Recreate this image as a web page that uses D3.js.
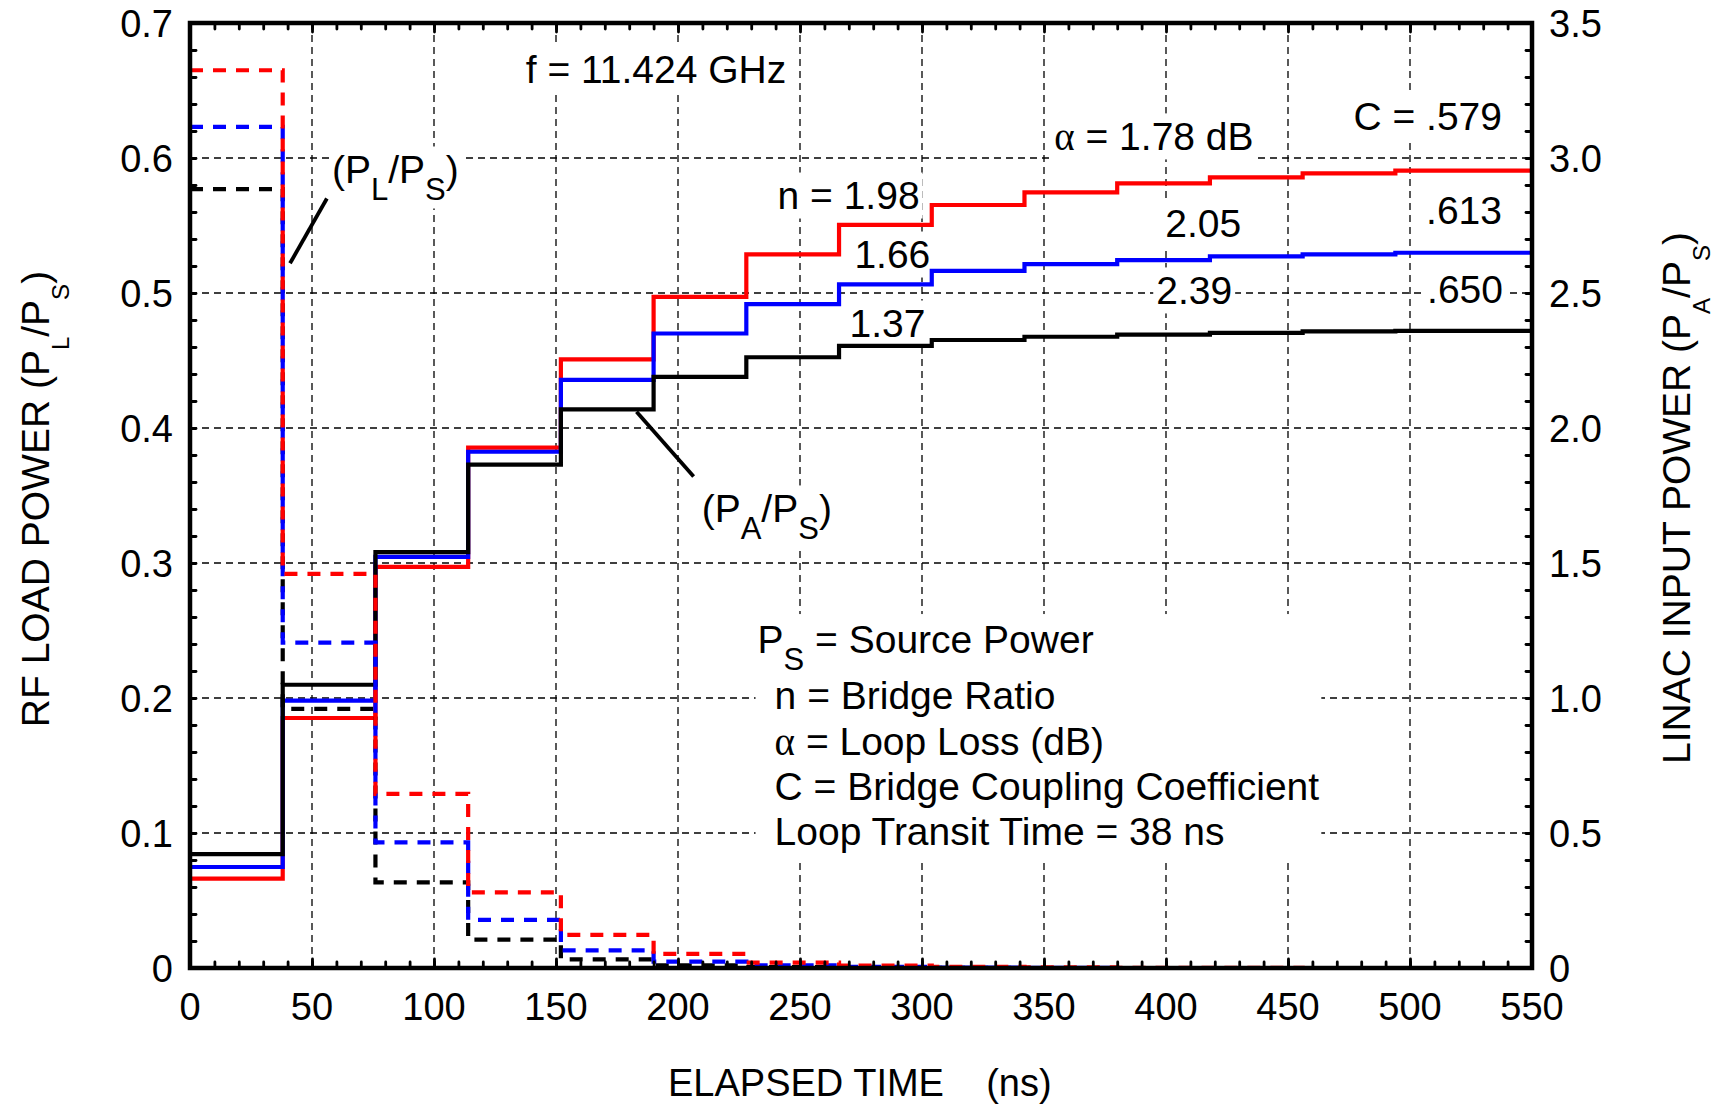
<!DOCTYPE html>
<html>
<head>
<meta charset="utf-8">
<script src="https://cdn.jsdelivr.net/npm/d3@7"></script>
<style>
  html, body { margin: 0; padding: 0; background: #fff; }
  svg { display: block; }
  text { font-family: "Liberation Sans", Arial, Helvetica, sans-serif; fill: #000; white-space: pre; }
</style>
</head>
<body>
<svg id="chart" width="1727" height="1112"></svg>
<script>
// Loop transit steps (ns); each value holds from its start time to the next one
const stepTimes = [0, 38, 76, 114, 152, 190, 228, 266, 304, 342, 380, 418, 456, 494];
const endTime = 550;

// Linac input power P_A/P_S (right axis)
const linacRed   = [0.331, 0.926, 1.486, 1.927, 2.254, 2.486, 2.643, 2.752, 2.826, 2.873, 2.906, 2.928, 2.943, 2.953];
const linacBlue  = [0.374, 0.990, 1.523, 1.912, 2.178, 2.350, 2.459, 2.532, 2.582, 2.607, 2.622, 2.636, 2.643, 2.649];
const linacBlack = [0.422, 1.049, 1.540, 1.864, 2.069, 2.189, 2.262, 2.304, 2.326, 2.338, 2.346, 2.352, 2.358, 2.360];

// RF load power P_L/P_S (left axis)
const loadRed   = [0.665, 0.292, 0.129, 0.056, 0.0245, 0.0104, 0.0040, 0.0017, 0.0008, 0.0004, 0.0002, 0.0001, 0, 0];
const loadBlue  = [0.623, 0.241, 0.093, 0.0356, 0.0131, 0.0047, 0.0020, 0.0008, 0.0003, 0.0001, 0, 0, 0, 0];
const loadBlack = [0.577, 0.192, 0.0635, 0.021, 0.0064, 0.0020, 0.0007, 0.0002, 0.0001, 0, 0, 0, 0, 0];

// Axis ticks
const xTickValues = [0, 50, 100, 150, 200, 250, 300, 350, 400, 450, 500, 550];
const leftTickValues = [0, 0.1, 0.2, 0.3, 0.4, 0.5, 0.6, 0.7];
const leftTickLabels = ["0", "0.1", "0.2", "0.3", "0.4", "0.5", "0.6", "0.7"];
const rightTickValues = [0, 0.5, 1.0, 1.5, 2.0, 2.5, 3.0, 3.5];
const rightTickLabels = ["0", "0.5", "1.0", "1.5", "2.0", "2.5", "3.0", "3.5"];

const colors = { red: "#ff0000", blue: "#0000ff", black: "#000000" };

const svg = d3.select("#chart");
const W = 1727, H = 1112;
const plot = { left: 190, right: 1532, top: 23, bottom: 968 };

const x = d3.scaleLinear().domain([0, endTime]).range([plot.left, plot.right]);
const yL = d3.scaleLinear().domain([0, 0.7]).range([plot.bottom, plot.top]);
const yR = d3.scaleLinear().domain([0, 3.5]).range([plot.bottom, plot.top]);

svg.append("rect").attr("width", W).attr("height", H).attr("fill", "#fff");

// Dashed grid
const grid = svg.append("g").attr("stroke", "#000").attr("stroke-width", 1.3).attr("stroke-dasharray", "7,5");
xTickValues.slice(1, -1).forEach(t => {
  grid.append("line").attr("x1", x(t)).attr("x2", x(t)).attr("y1", plot.top).attr("y2", plot.bottom);
});
leftTickValues.slice(1, -1).forEach(v => {
  grid.append("line").attr("x1", plot.left).attr("x2", plot.right).attr("y1", yL(v)).attr("y2", yL(v));
});

// Text with subscripts / greek parts, with an optional white backing box
function richText(g, px, py, parts, opt = {}) {
  const size = opt.size || 39, subSize = opt.subSize || 31, dy = opt.dy || 17;
  const t = g.append("text")
    .attr("x", px).attr("y", py)
    .attr("font-size", size)
    .attr("text-anchor", opt.anchor || "start");
  if (opt.transform) t.attr("transform", opt.transform);
  let shifted = false;
  parts.forEach(p => {
    const s = t.append("tspan").text(p[0]);
    if (p[1] === "sub") {
      s.attr("font-size", subSize).attr("dy", dy);
      shifted = true;
    } else {
      if (shifted) { s.attr("dy", -dy); shifted = false; }
      if (p[1] === "greek") s.attr("font-family", "'Liberation Serif', 'Times New Roman', serif");
    }
  });
  if (opt.bg) {
    const b = t.node().getBBox();
    const pad = opt.pad == null ? 3 : opt.pad;
    g.insert("rect", () => t.node())
      .attr("x", b.x - pad).attr("y", b.y - pad / 2)
      .attr("width", b.width + 2 * pad).attr("height", b.height + pad)
      .attr("fill", "#fff");
  }
  return t;
}

// Annotations inside the plot
const notes = svg.append("g");
const annotations = [
  { t: 137.6, v: 0.6556, parts: [["f = 11.424 GHz"]] },
  { t: 354.2, v: 0.6060, parts: [["α", "greek"], [" = 1.78 dB"]] },
  { t: 537.7, v: 0.6207, parts: [["C = .579"]], anchor: "end" },
  { t: 240.8, v: 0.5622, parts: [["n = 1.98"]] },
  { t: 399.7, v: 0.5415, parts: [["2.05"]] },
  { t: 537.7, v: 0.5511, parts: [[".613"]], anchor: "end" },
  { t: 272.3, v: 0.5185, parts: [["1.66"]] },
  { t: 396.0, v: 0.4919, parts: [["2.39"]] },
  { t: 538.1, v: 0.4926, parts: [[".650"]], anchor: "end" },
  { t: 270.3, v: 0.4674, parts: [["1.37"]] },
  { t: 58.2,  v: 0.5815, parts: [["(P"], ["L", "sub"], ["/P"], ["S", "sub"], [")"]] },
  { t: 209.7, v: 0.3304, parts: [["(P"], ["A", "sub"], ["/P"], ["S", "sub"], [")"]] }
];
annotations.forEach(a => {
  richText(notes, x(a.t), yL(a.v), a.parts, { anchor: a.anchor, bg: true });
});

// Definitions block on one white panel
const legendLines = [
  { t: 232.6, v: 0.2333, parts: [["P"], ["S", "sub"], [" = Source Power"]] },
  { t: 239.6, v: 0.1919, parts: [["n = Bridge Ratio"]] },
  { t: 239.6, v: 0.1578, parts: [["α", "greek"], [" = Loop Loss (dB)"]] },
  { t: 239.6, v: 0.1244, parts: [["C = Bridge Coupling Coefficient"]] },
  { t: 239.6, v: 0.0911, parts: [["Loop Transit Time = 38 ns"]] }
];
const legend = svg.append("g");
const legendPanel = legend.append("rect").attr("fill", "#fff");
legendLines.forEach(l => richText(legend, x(l.t), yL(l.v), l.parts, {}));
{
  const b = legend.node().getBBox();
  legendPanel.attr("x", b.x - 2).attr("y", b.y - 4).attr("width", b.width + 4).attr("height", b.height + 10);
}

// Leader lines from the curve-family labels
const leaders = [
  [[56.1, 0.570], [41.0, 0.522]],
  [[183.0, 0.412], [206.4, 0.364]]
];
leaders.forEach(l => {
  notes.append("line")
    .attr("x1", x(l[0][0])).attr("y1", yL(l[0][1]))
    .attr("x2", x(l[1][0])).attr("y2", yL(l[1][1]))
    .attr("stroke", "#000").attr("stroke-width", 3.8);
});

// Step curves
function stepData(values) {
  const d = stepTimes.map((t, i) => ({ t, v: values[i] }));
  d.push({ t: endTime, v: values[values.length - 1] });
  return d;
}
const lineL = d3.line().x(d => x(d.t)).y(d => yL(d.v)).curve(d3.curveStepAfter);
const lineR = d3.line().x(d => x(d.t)).y(d => yR(d.v)).curve(d3.curveStepAfter);

const curves = svg.append("g").attr("fill", "none");
[[linacRed, colors.red], [linacBlue, colors.blue], [linacBlack, colors.black]].forEach(([vals, c]) => {
  curves.append("path").attr("d", lineR(stepData(vals)))
    .attr("stroke", c).attr("stroke-width", 4.2);
});
[[loadBlack, colors.black], [loadBlue, colors.blue], [loadRed, colors.red]].forEach(([vals, c]) => {
  curves.append("path").attr("d", lineL(stepData(vals)))
    .attr("stroke", c).attr("stroke-width", 4.2).attr("stroke-dasharray", "13,10");
});

// Inward ticks on all four sides
function tickStyle(g) {
  g.select(".domain").remove();
  g.selectAll(".tick line").attr("stroke", "#000").attr("stroke-width", 2.8).attr("stroke-linecap", "round");
}
const minorX = d3.range(0, endTime + 1, 10);
const minorY = d3.range(0, 0.7001, 0.02);
svg.append("g").attr("transform", `translate(0,${plot.bottom})`)
  .call(d3.axisBottom(x).tickValues(minorX).tickSize(-6).tickFormat("")).call(tickStyle);
svg.append("g").attr("transform", `translate(0,${plot.top})`)
  .call(d3.axisTop(x).tickValues(minorX).tickSize(-6).tickFormat("")).call(tickStyle);
svg.append("g").attr("transform", `translate(${plot.left},0)`)
  .call(d3.axisLeft(yL).tickValues(minorY).tickSize(-6).tickFormat("")).call(tickStyle);
svg.append("g").attr("transform", `translate(${plot.right},0)`)
  .call(d3.axisRight(yL).tickValues(minorY).tickSize(-6).tickFormat("")).call(tickStyle);
svg.append("g").attr("transform", `translate(0,${plot.bottom})`)
  .call(d3.axisBottom(x).tickValues(xTickValues).tickSize(-9).tickFormat("")).call(tickStyle);
svg.append("g").attr("transform", `translate(0,${plot.top})`)
  .call(d3.axisTop(x).tickValues(xTickValues).tickSize(-9).tickFormat("")).call(tickStyle);

// Frame
svg.append("rect")
  .attr("x", plot.left).attr("y", plot.top)
  .attr("width", plot.right - plot.left).attr("height", plot.bottom - plot.top)
  .attr("fill", "none").attr("stroke", "#000").attr("stroke-width", 4.5);

// Tick labels
const labels = svg.append("g").attr("font-size", 38);
xTickValues.forEach(t => {
  labels.append("text").attr("x", x(t)).attr("y", 1020).attr("text-anchor", "middle").text(t);
});
leftTickValues.forEach((v, i) => {
  labels.append("text").attr("x", 173).attr("y", yL(v)).attr("dy", "0.36em")
    .attr("text-anchor", "end").text(leftTickLabels[i]);
});
rightTickValues.forEach((v, i) => {
  labels.append("text").attr("x", 1549).attr("y", yR(v)).attr("dy", "0.36em")
    .attr("text-anchor", "start").text(rightTickLabels[i]);
});

// Axis titles
const titles = svg.append("g");
titles.append("text").attr("x", 668).attr("y", 1096).attr("font-size", 38).text("ELAPSED TIME    (ns)");
richText(titles, 0, 0, [["RF LOAD POWER (P"], ["L", "sub"], ["/P"], ["S", "sub"], [")"]],
  { size: 39, subSize: 24, dy: 20, anchor: "middle", transform: "translate(49,499) rotate(-90)" });
richText(titles, 0, 0, [["LINAC INPUT POWER (P"], ["A", "sub"], ["/P"], ["S", "sub"], [")"]],
  { size: 39, subSize: 24, dy: 20, anchor: "middle", transform: "translate(1690,498) rotate(-90)" });
</script>
</body>
</html>
